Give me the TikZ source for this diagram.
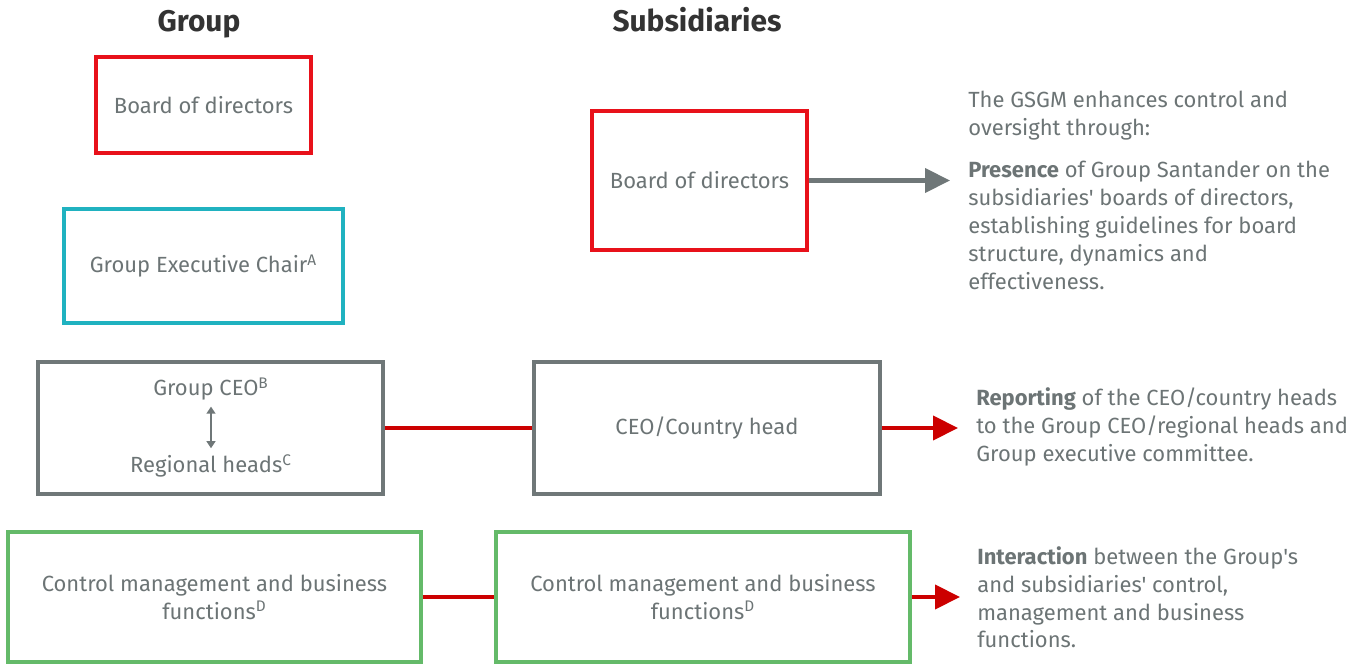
\documentclass[tikz,border=0pt]{standalone}
\usepackage{fontspec}
\setmainfont{Fira Sans}[Ligatures=TeXOff]
\usetikzlibrary{arrows.meta}
\definecolor{boxred}{RGB}{232,17,26}
\definecolor{linkred}{RGB}{204,0,0}
\definecolor{chaircyan}{RGB}{32,178,192}
\definecolor{fungreen}{RGB}{100,186,105}
\definecolor{framegray}{RGB}{111,119,120}
\definecolor{txtgray}{RGB}{108,116,117}
\tikzset{
  box/.style={draw, rectangle, line width=2pt, align=center, text=txtgray, inner sep=0pt},
  head/.style={font=\fontsize{17}{20}\selectfont\bfseries, text=black!80, anchor=base},
  note/.style={align=left, anchor=north west, text=txtgray, inner sep=0pt, font=\fontsize{12.5}{15.9}\selectfont},
  link/.style={draw=linkred, line width=2.4pt},
  tip/.style={-{Triangle[length=0.5cm,width=0.48cm]}, line width=2.4pt}
}
\begin{document}
\begin{tikzpicture}[x=0.02cm, y=-0.02cm, font=\fontsize{12.5}{15.9}\selectfont]
\useasboundingbox (0,0) rectangle (1370,665);
\node[head] (hgroup) at (199,32) {Group};
\node[head] (hsub) at (697,32) {Subsidiaries};
\node[box, draw=boxred, minimum width=4.3cm, minimum height=1.92cm] (gbod) at (203.5,105) {Board of directors};
\node[box, draw=chaircyan, minimum width=5.58cm, minimum height=2.28cm] (gchair) at (203.5,266) {Group Executive Chair\textsuperscript{A}};
\node[box, draw=framegray, minimum width=6.9cm, minimum height=2.64cm] (gceo) at (210.5,428) {};
\node[text=txtgray] (ceo) at (211,389) {Group CEO\textsuperscript{B}};
\node[text=txtgray] (reg) at (211,466) {Regional heads\textsuperscript{C}};
\node[box, draw=fungreen, minimum width=8.26cm, minimum height=2.6cm] (gctrl) at (214.5,597) {Control management and business\\functions\textsuperscript{D}};
\node[box, draw=boxred, minimum width=4.3cm, minimum height=2.78cm] (sbod) at (699.5,180.5) {Board of directors};
\node[box, draw=framegray, minimum width=6.92cm, minimum height=2.64cm] (sceo) at (707,428) {CEO/Country head};
\node[box, draw=fungreen, minimum width=8.28cm, minimum height=2.6cm] (sctrl) at (703,597) {Control management and business\\functions\textsuperscript{D}};
\node[note] (intro) at (968,91) {The GSGM enhances control and\\oversight through:};
\node[note] (pres) at (968,161) {\textbf{Presence} of Group Santander on the\\subsidiaries' boards of directors,\\establishing guidelines for board\\structure, dynamics and\\effectiveness.};
\node[note] (rep) at (976,387) {\textbf{Reporting} of the CEO/country heads\\to the Group CEO/regional heads and\\Group executive committee.};
\node[note] (inter) at (977,546) {\textbf{Interaction} between the Group's\\and subsidiaries' control,\\management and business\\functions.};
\coordinate (presend) at (950,178);
\coordinate (repend) at (958,424);
\coordinate (interend) at (960,594);
\draw[<->, >={Triangle[length=4pt,width=5pt]}, framegray, line width=1.2pt] (ceo) -- (reg);
\draw[link] (gceo.east) -- (sceo.west);
\draw[link] (gctrl.east) -- (sctrl.west);
\draw[tip, framegray] (sbod.east) -- (sbod.east -| presend);
\draw[tip, linkred] (sceo.east) -- (sceo.east -| repend);
\draw[tip, linkred] (sctrl.east) -- (sctrl.east -| interend);
\end{tikzpicture}
\end{document}
